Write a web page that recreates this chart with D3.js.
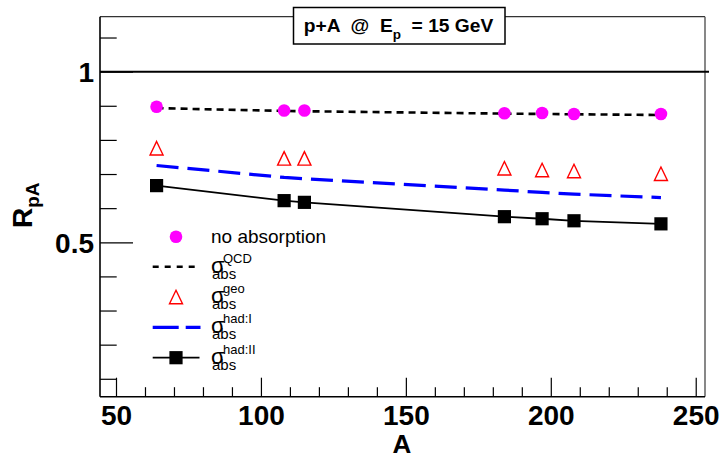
<!DOCTYPE html>
<html>
<head>
<meta charset="utf-8">
<script src="https://cdn.jsdelivr.net/npm/d3@7"></script>
<style>
  html, body { margin: 0; padding: 0; background: #fff; }
  svg { display: block; font-family: "Liberation Sans", Arial, sans-serif; }
</style>
</head>
<body>
<svg id="chart" width="722" height="459"></svg>
<script>
// ---- data ----
const massNumbers = [64, 108, 115, 184, 197, 208, 238];
const noAbsorption = [0.897, 0.886, 0.886, 0.878, 0.879, 0.876, 0.876];
const sigmaQCD = [0.893, 0.885, 0.884, 0.877, 0.876, 0.875, 0.873];
const sigmaGeo = [0.775, 0.745, 0.745, 0.716, 0.711, 0.708, 0.700];
const sigmaHadI = [0.725, 0.690, 0.686, 0.653, 0.646, 0.641, 0.631];
const sigmaHadII = [0.666, 0.622, 0.617, 0.575, 0.569, 0.563, 0.554];
const xTickLabels = [50, 100, 150, 200, 250];
const yTickLabels = [0.5, 1];

(function () {
// ---- layout ----
const svg = d3.select("#chart");
const pLeft = 100, pRight = 705, pTop = 16.7, pBottom = 396.7;
const x = d3.scaleLinear().domain([44.48, 253.2]).range([pLeft, pRight]);
const y = d3.scaleLinear().domain([0.0475, 1.161]).range([pBottom, pTop]);

// frame (top/right)
svg.append("line").attr("x1", pLeft).attr("x2", pRight).attr("y1", pTop).attr("y2", pTop)
  .attr("stroke", "#333").attr("stroke-width", 1.2);
svg.append("line").attr("x1", pRight).attr("x2", pRight).attr("y1", pTop).attr("y2", pBottom)
  .attr("stroke", "#555").attr("stroke-width", 1.4);

// x axis
const xMinor = d3.range(50, 251, 10).filter(v => v % 50 !== 0);
const gxMinor = svg.append("g").attr("transform", `translate(0,${pBottom})`)
  .call(d3.axisBottom(x).tickValues(xMinor).tickSize(-9.5).tickFormat(""));
const gx = svg.append("g").attr("transform", `translate(0,${pBottom})`)
  .call(d3.axisBottom(x).tickValues(xTickLabels).tickSize(-19).tickPadding(28).tickFormat(d3.format("d")));
[gxMinor, gx].forEach(g => {
  g.select(".domain").remove();
  g.selectAll(".tick line").attr("stroke", "#000").attr("stroke-width", 1.2);
});
gx.selectAll(".tick text").attr("font-size", 28).attr("font-weight", "bold").attr("fill", "#000")
  .attr("font-family", "Liberation Sans, Arial, sans-serif").attr("dy", 0);

// y axis
const yMinor = d3.range(1, 12).map(v => v / 10).filter(v => v !== 0.5 && v !== 1);
const gyMinor = svg.append("g").attr("transform", `translate(${pLeft},0)`)
  .call(d3.axisLeft(y).tickValues(yMinor).tickSize(-16.7).tickFormat(""));
const gy = svg.append("g").attr("transform", `translate(${pLeft},0)`)
  .call(d3.axisLeft(y).tickValues(yTickLabels).tickSize(-33).tickPadding(6).tickFormat(d => d === 1 ? "1" : d3.format(".1f")(d)));
[gyMinor, gy].forEach(g => {
  g.select(".domain").remove();
  g.selectAll(".tick line").attr("stroke", "#000").attr("stroke-width", 1.2);
});
gy.selectAll(".tick text").attr("font-size", 28).attr("font-weight", "bold").attr("fill", "#000")
  .attr("font-family", "Liberation Sans, Arial, sans-serif").attr("dy", "0.36em");

// axis lines (left, bottom)
svg.append("line").attr("x1", pLeft).attr("x2", pLeft).attr("y1", pTop).attr("y2", pBottom)
  .attr("stroke", "#000").attr("stroke-width", 1.6);
svg.append("line").attr("x1", pLeft).attr("x2", pRight).attr("y1", pBottom).attr("y2", pBottom)
  .attr("stroke", "#000").attr("stroke-width", 1.6);

// reference line at 1
svg.append("line").attr("x1", pLeft).attr("x2", 709).attr("y1", y(1)).attr("y2", y(1))
  .attr("stroke", "#000").attr("stroke-width", 2);

// axis titles
svg.append("text").attr("x", 402).attr("y", 453).attr("text-anchor", "middle")
  .attr("font-size", 26).attr("font-weight", "bold").text("A");
const yt = svg.append("text").attr("transform", "translate(31.5,228) rotate(-90)")
  .attr("font-size", 28).attr("font-weight", "bold");
yt.append("tspan").text("R");
yt.append("tspan").attr("font-size", 19).attr("dy", 7).text("pA");

// ---- series ----
const pts = (vals) => massNumbers.map((a, i) => [x(a), y(vals[i])]);
const line = d3.line();

svg.append("path").attr("d", line(pts(sigmaQCD))).attr("fill", "none")
  .attr("stroke", "#000").attr("stroke-width", 2.6).attr("stroke-dasharray", "7,5");
svg.append("path").attr("d", line(pts(sigmaHadI))).attr("fill", "none")
  .attr("stroke", "#0000ff").attr("stroke-width", 3.2).attr("stroke-dasharray", "22,9");
svg.append("path").attr("d", line(pts(sigmaHadII))).attr("fill", "none")
  .attr("stroke", "#000").attr("stroke-width", 1.8);

const sym = {
  circle: d3.symbol().type(d3.symbolCircle).size(Math.PI * 6.3 * 6.3),
  square: d3.symbol().type(d3.symbolSquare).size(13.2 * 13.2),
};
function triPath(cx, cy) {
  const h = 13, w = 13;
  return `M${cx},${cy - h / 2 - 0.5}L${cx + w / 2},${cy + h / 2}L${cx - w / 2},${cy + h / 2}Z`;
}

svg.append("g").selectAll("path").data(pts(noAbsorption)).join("path")
  .attr("transform", d => `translate(${d[0]},${d[1]})`).attr("d", sym.circle()).attr("fill", "#ff00ff");
svg.append("g").selectAll("path").data(pts(sigmaGeo)).join("path")
  .attr("d", d => triPath(d[0], d[1])).attr("fill", "none").attr("stroke", "#ff0000").attr("stroke-width", 1.4);
svg.append("g").selectAll("path").data(pts(sigmaHadII)).join("path")
  .attr("transform", d => `translate(${d[0]},${d[1]})`).attr("d", sym.square()).attr("fill", "#000");

// ---- title box ----
svg.append("rect").attr("x", 293.5).attr("y", 7.5).attr("width", 211.5).attr("height", 36.5)
  .attr("fill", "#fff").attr("stroke", "#000").attr("stroke-width", 1.5);
const tt = svg.append("text").attr("x", 398.5).attr("y", 31.5).attr("text-anchor", "middle")
  .attr("font-size", 19.2).attr("font-weight", "bold").attr("xml:space", "preserve");
tt.append("tspan").text("p+A  @  E");
tt.append("tspan").attr("font-size", 13.5).attr("dy", 7).text("p");
tt.append("tspan").attr("dy", -7).text("  = 15 GeV");

// ---- legend ----
const lg = svg.append("g");
const lx1 = 152.7, lx2 = 199.5, lmx = 176, ltx = 211;
const rows = [236.7, 266.7, 297.3, 327.3, 357.7];
lg.append("path").attr("transform", `translate(${lmx},${rows[0]})`).attr("d", sym.circle()).attr("fill", "#ff00ff");
lg.append("text").attr("x", ltx).attr("y", rows[0] + 6.5).attr("font-size", 19).text("no absorption");

lg.append("line").attr("x1", lx1).attr("x2", lx2).attr("y1", rows[1]).attr("y2", rows[1])
  .attr("stroke", "#000").attr("stroke-width", 2.6).attr("stroke-dasharray", "6,6");
lg.append("path").attr("d", triPath(lmx, rows[2])).attr("fill", "none").attr("stroke", "#ff0000").attr("stroke-width", 1.4);
lg.append("line").attr("x1", lx1).attr("x2", lx2 + 1).attr("y1", rows[3]).attr("y2", rows[3])
  .attr("stroke", "#0000ff").attr("stroke-width", 3.2).attr("stroke-dasharray", "26,7");
lg.append("line").attr("x1", lx1).attr("x2", lx2).attr("y1", rows[4]).attr("y2", rows[4])
  .attr("stroke", "#000").attr("stroke-width", 1.8);
lg.append("path").attr("transform", `translate(${lmx},${rows[4]})`).attr("d", sym.square()).attr("fill", "#000");

const sups = ["QCD", "geo", "had:I", "had:II"];
[1, 2, 3, 4].forEach((r, i) => {
  const cy = rows[r];
  const t = lg.append("text").attr("x", ltx).attr("y", cy + 6).attr("font-size", 22);
  t.append("tspan").text("σ");
  t.append("tspan").attr("font-size", 13).attr("x", ltx + 12).attr("dy", -10).text(sups[i]);
  t.append("tspan").attr("font-size", 15).attr("x", ltx + 1).attr("dy", 16).text("abs");
});
})();
</script>
</body>
</html>
